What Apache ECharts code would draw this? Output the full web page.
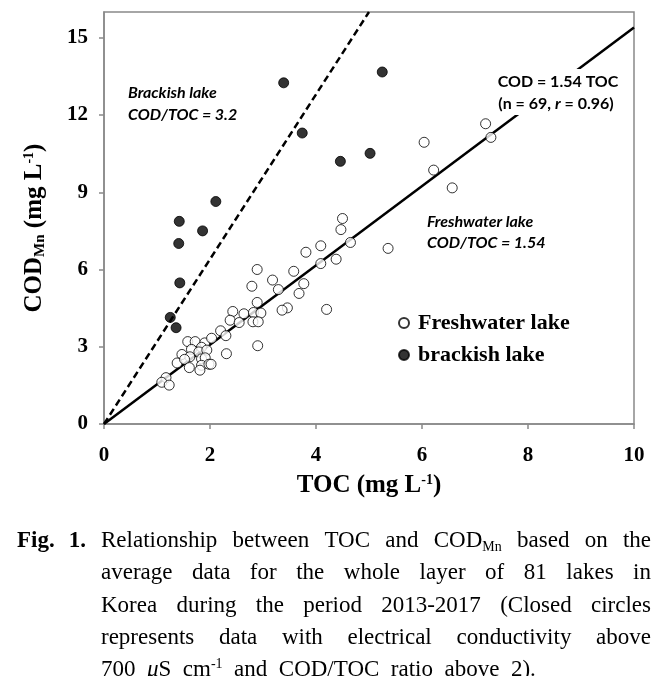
<!DOCTYPE html>
<html><head><meta charset="utf-8">
<script src="https://cdn.jsdelivr.net/npm/echarts@6/dist/echarts.min.js"></script>
<style>html,body{margin:0;padding:0;background:#fff}#c{width:667px;height:676px}</style>
</head><body><div id="c"></div>
<script>
// ---- data ----
const xTickLabels = [0, 2, 4, 6, 8, 10];
const yTickLabels = [0, 3, 6, 9, 12, 15];
const freshTOC = [2.89,3.58,2.79,3.18,3.29,2.89,3.46,3.36,2.43,2.64,2.82,2.96,2.38,2.55,2.81,2.91,2.20,2.30,2.90,2.31,
  1.58,1.72,1.90,2.03,1.84,1.65,1.47,1.62,1.79,1.94,1.38,1.52,1.84,1.91,1.61,1.84,1.98,2.02,1.81,1.17,1.09,1.23,
  3.81,4.09,3.77,3.68,4.20,6.57,4.50,4.47,4.09,4.65,5.36,4.38,7.20,7.30,6.04,6.22];
const freshCOD = [6.00,5.93,5.35,5.59,5.22,4.72,4.51,4.42,4.37,4.28,4.33,4.31,4.03,3.94,3.97,3.97,3.62,3.43,3.04,2.73,
  3.20,3.20,3.15,3.33,2.98,2.90,2.70,2.61,2.80,2.87,2.37,2.51,2.53,2.57,2.19,2.28,2.32,2.32,2.09,1.80,1.62,1.51,
  6.67,6.23,5.45,5.07,4.45,9.17,7.98,7.55,6.92,7.05,6.82,6.40,11.66,11.13,10.94,9.86];
const brackTOC = [3.39,5.25,3.74,4.46,5.02,2.11,1.42,1.86,1.41,1.43,1.25,1.36];
const brackCOD = [13.25,13.67,11.30,10.20,10.51,8.64,7.87,7.50,7.01,5.48,4.14,3.74];
const freshSlope = 1.54;
const brackSlope = 3.2;
const xMax = 10, yMax = 16;
const seriesNames = ['Freshwater lake', 'brackish lake'];

// ---- build ----
const SERIF = '"Liberation Serif","Times New Roman",serif';
const SANS = 'Lato,"Open Sans",sans-serif';
const zip = (a, b) => a.map((v, i) => [v, b[i]]);

const chart = echarts.init(document.getElementById('c'), null, {renderer: 'canvas'});
const GRID = {left: 104, top: 12, width: 530, height: 412};

// caption layout helpers
const ctx = document.createElement('canvas').getContext('2d');
const CAP = 23, SUBSZ = 14;
function parse(word) {
  const segs = []; const re = /\{(\w+)\|([^}]*)\}/g; let last = 0, m;
  while ((m = re.exec(word))) {
    if (m.index > last) segs.push({k: 'n', t: word.slice(last, m.index)});
    segs.push({k: m[1], t: m[2]}); last = re.lastIndex;
  }
  if (last < word.length) segs.push({k: 'n', t: word.slice(last)});
  return segs;
}
function fontFor(k, bold) {
  const sz = (k === 'sub' || k === 'sup') ? SUBSZ : CAP;
  return (k === 'it' ? 'italic ' : '') + (bold ? 'bold ' : '') + sz + 'px "Liberation Serif"';
}
function wordWidth(word, bold) {
  return parse(word).reduce((w, s) => { ctx.font = fontFor(s.k, bold); return w + ctx.measureText(s.t).width; }, 0);
}
const capRich = {
  sub: {fontFamily: SERIF, fontSize: SUBSZ, lineHeight: 14, verticalAlign: 'bottom'},
  sup: {fontFamily: SERIF, fontSize: SUBSZ, lineHeight: 14, verticalAlign: 'top'},
  it: {fontFamily: SERIF, fontSize: CAP, fontStyle: 'italic', lineHeight: 26}
};
const captionLines = [
  'Relationship between TOC and COD{sub|Mn} based on the',
  'average data for the whole layer of 81 lakes in',
  'Korea during the period 2013-2017 (Closed circles',
  'represents data with electrical conductivity above',
  '700 {it|μ}S cm{sup|-1} and COD/TOC ratio above 2).'
];
const capX0 = 101, capX1 = 651, capY0 = 541, capDy = 32.3;
const graphics = [];
captionLines.forEach((line, li) => {
  const words = line.split(' ');
  const widths = words.map(w => wordWidth(w, false));
  const total = widths.reduce((a, b) => a + b, 0);
  ctx.font = CAP + 'px "Liberation Serif"';
  const sp = ctx.measureText(' ').width;
  const gap = li < captionLines.length - 1 ? (capX1 - capX0 - total) / (words.length - 1) : sp * 2.0;
  let x = capX0;
  words.forEach((w, i) => {
    graphics.push({type: 'text', x: x, y: capY0 + li * capDy, z: 100,
      style: {text: w, fontFamily: SERIF, fontSize: CAP, lineHeight: 26, fill: '#000', align: 'left', verticalAlign: 'middle', rich: capRich}});
    x += widths[i] + gap;
  });
});
graphics.push({type: 'text', x: 17, y: capY0, z: 100,
  style: {text: 'Fig.', fontFamily: SERIF, fontWeight: 'bold', fontSize: CAP, fill: '#000', align: 'left', verticalAlign: 'middle'}});
graphics.push({type: 'text', x: 86, y: capY0, z: 100,
  style: {text: '1.', fontFamily: SERIF, fontWeight: 'bold', fontSize: CAP, fill: '#000', align: 'right', verticalAlign: 'middle'}});

// annotations
const ANN = 16;
const ann = (t, x, y, align, italic) => ({type: 'text', x, y, z: 100,
  style: {text: t, fontFamily: SANS, fontWeight: 'bold', fontStyle: italic ? 'italic' : 'normal', fontSize: ANN, fill: '#000',
    align, verticalAlign: 'middle', rich: {r: {fontFamily: SANS, fontWeight: 'bold', fontStyle: 'italic', fontSize: ANN}}}});
// white box behind the regression equation (hides the line, as in the source)
graphics.push({type: 'rect', z: 99, shape: {x: 494, y: 69, width: 134, height: 46}, style: {fill: '#fff'}});
graphics.push(ann('Brackish lake', 128, 93, 'left', true));
graphics.push(ann('COD/TOC = 3.2', 128, 115, 'left', true));
graphics.push(ann('Freshwater lake', 427, 222, 'left', true));
graphics.push(ann('COD/TOC = 1.54', 427, 243, 'left', true));
graphics.push(ann('COD = 1.54 TOC', 558, 82, 'center', false));
graphics.push(ann('(n = 69, {r|r} = 0.96)', 556, 104, 'center', false));

const axisLineStyle = {color: '#898989', width: 1.5};
const titleRich = {
  sub: {fontFamily: SERIF, fontWeight: 'bold', fontSize: 15, lineHeight: 16, verticalAlign: 'bottom'},
  sup: {fontFamily: SERIF, fontWeight: 'bold', fontSize: 14, lineHeight: 16, verticalAlign: 'top'}
};

chart.setOption({
  animation: false,
  backgroundColor: '#fff',
  grid: Object.assign({show: true, borderColor: '#898989', borderWidth: 1.5, backgroundColor: 'transparent'}, GRID),
  xAxis: {
    type: 'value', min: 0, max: xMax, interval: 2,
    axisLine: {lineStyle: axisLineStyle}, splitLine: {show: false},
    axisTick: {show: true, inside: false, length: 5, lineStyle: axisLineStyle, customValues: xTickLabels},
    axisLabel: {customValues: xTickLabels, margin: 21, fontFamily: SERIF, fontWeight: 'bold', fontSize: 21, color: '#000'},
    name: 'TOC (mg L{sup|-1})', nameLocation: 'middle', nameGap: 49,
    nameTextStyle: {fontFamily: SERIF, fontWeight: 'bold', fontSize: 25, color: '#000', lineHeight: 26, rich: titleRich}
  },
  yAxis: {
    type: 'value', min: 0, max: yMax, interval: 3,
    axisLine: {lineStyle: axisLineStyle}, splitLine: {show: false},
    axisTick: {show: true, inside: false, length: 5, lineStyle: axisLineStyle, customValues: yTickLabels},
    axisLabel: {customValues: yTickLabels, margin: 16, fontFamily: SERIF, fontWeight: 'bold', fontSize: 21, color: '#000'},
    name: 'COD{sub|Mn} (mg L{sup|-1})', nameLocation: 'middle', nameGap: 56, nameRotate: 90,
    nameTextStyle: {fontFamily: SERIF, fontWeight: 'bold', fontSize: 25, color: '#000', lineHeight: 26, rich: titleRich, padding: [0, 20, 0, 0]}
  },
  legend: {
    orient: 'vertical', left: 393, top: 307, itemGap: 10, itemWidth: 10, itemHeight: 10,
    textStyle: {fontFamily: SERIF, fontWeight: 'bold', fontSize: 22, color: '#000', padding: [0, 0, 0, 4]},
    data: [{name: seriesNames[0], icon: 'circle'}, {name: seriesNames[1], icon: 'circle'}]
  },
  series: [
    {type: 'line', data: [[0, 0], [xMax, xMax * freshSlope]], symbol: 'none', z: 2,
      lineStyle: {color: '#000', width: 2.5}, silent: true},
    {type: 'line', data: [[0, 0], [yMax / brackSlope, yMax]], symbol: 'none', z: 2,
      lineStyle: {color: '#000', width: 2.5, type: [7, 4]}, silent: true},
    {name: seriesNames[0], type: 'scatter', data: zip(freshTOC, freshCOD), symbol: 'circle', symbolSize: 10, z: 3,
      itemStyle: {color: '#fff', borderColor: '#000', borderWidth: 1}},
    {name: seriesNames[1], type: 'scatter', data: zip(brackTOC, brackCOD), symbol: 'circle', symbolSize: 10, z: 4,
      itemStyle: {color: '#000', borderColor: '#000', borderWidth: 1}}
  ],
  graphic: graphics
});
</script></body></html>
